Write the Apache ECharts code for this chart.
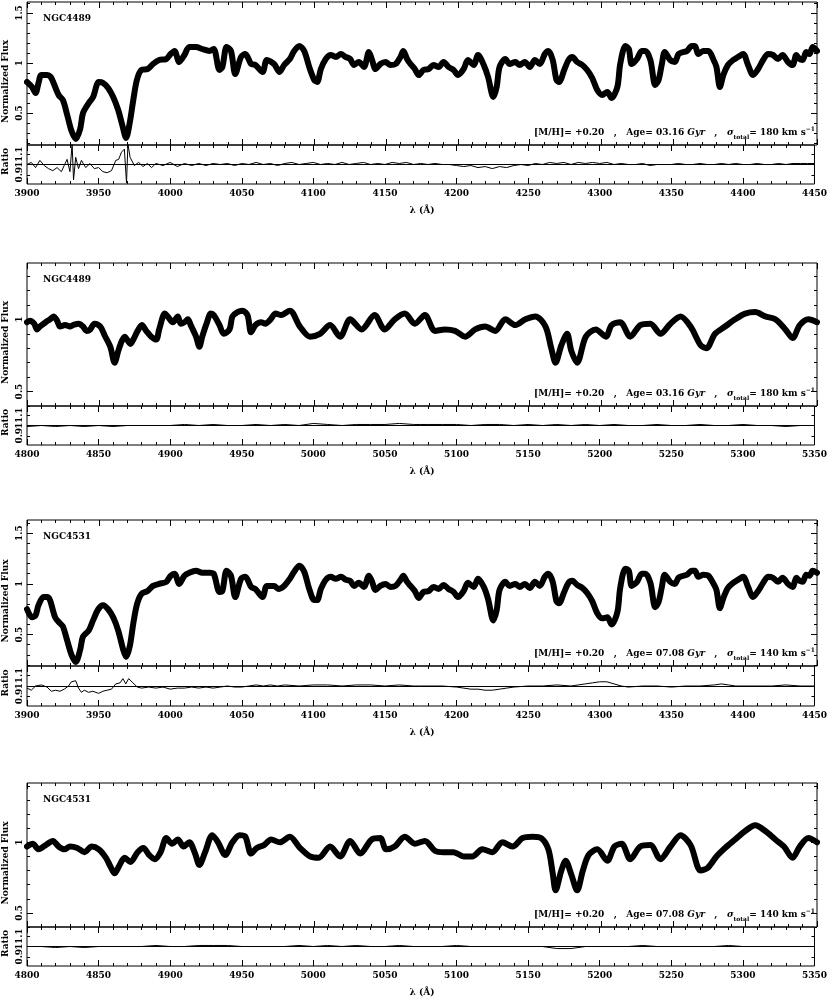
<!DOCTYPE html>
<html><head><meta charset="utf-8">
<script src="https://cdn.jsdelivr.net/npm/echarts@6/dist/echarts.min.js"></script>
<style>html,body{margin:0;padding:0;background:#fff}#c{width:830px;height:999px}</style>
</head><body><div id="c"></div><script>
// ---------------- DATA ----------------
const galaxyNames = ['NGC4489', 'NGC4489', 'NGC4531', 'NGC4531'];
const metallicities = ['+0.20', '+0.20', '+0.20', '+0.20'];
const ages = ['03.16', '03.16', '07.08', '07.08'];
const sigmas = ['180', '180', '140', '140'];
const xTickLabelsBlue = [3900, 3950, 4000, 4050, 4100, 4150, 4200, 4250, 4300, 4350, 4400, 4450];
const xTickLabelsRed = [4800, 4850, 4900, 4950, 5000, 5050, 5100, 5150, 5200, 5250, 5300, 5350];
const fluxTickLabels = [0.5, 1, 1.5];
const ratioTickLabels = [0.9, 1, 1.1];

const p1Wave = [3900,3903.5,3906,3908,3910,3914,3916.5,3918.5,3922,3925,3928,3931,3934,3937,3939,3943,3946,3950,3953,3956.5,3960,3963.5,3966.5,3969,3971.5,3974,3976.5,3979.6,3984,3987.7,3992,3997,4000,4002.7,4006,4009.6,4013,4017.7,4022,4027,4030,4034,4036,4039,4042,4045,4049,4052,4056,4059,4064,4067,4072,4075.8,4079,4083,4086,4089.6,4093,4096.5,4100,4102,4104.6,4108,4111.5,4115,4118.5,4122,4125,4127.7,4131,4134.6,4138,4140,4142.7,4146,4149.6,4153,4156.6,4160,4162,4164.6,4167,4170,4172.7,4176,4179.7,4183,4186.6,4190,4193.5,4197,4200,4204,4207,4211,4214,4218,4221,4224.7,4227,4229,4233,4236,4240,4243,4246.6,4250,4253.6,4257,4260.5,4263,4266,4268.6,4270.4,4274,4277,4279.7,4283,4286.6,4290,4293.5,4297,4300.5,4304,4307,4311,4313,4316.6,4319,4321,4324.7,4328,4330.5,4334,4337.4,4339.7,4342,4344,4347.8,4351,4353.6,4357,4359.4,4362.8,4365,4367.4,4371,4374.4,4378,4380,4382.4,4384.8,4388,4391.6,4395,4398.6,4402,4405.5,4409,4412.5,4416,4419.4,4422.8,4426,4429.8,4433,4435.6,4437.8,4440,4442.5,4444.8,4447,4450];
const p1Flux = [0.81,0.76,0.70,0.80,0.88,0.88,0.86,0.80,0.68,0.63,0.48,0.32,0.24,0.34,0.50,0.60,0.66,0.81,0.80,0.75,0.66,0.53,0.37,0.25,0.40,0.63,0.83,0.93,0.94,0.99,1.03,1.04,1.09,1.12,1.01,1.08,1.16,1.16,1.14,1.12,1.14,0.93,0.96,1.16,1.12,0.89,1.06,1.09,0.99,0.98,0.91,1.03,0.99,0.91,0.98,1.04,1.12,1.17,1.12,0.96,0.83,0.81,0.94,1.04,1.08,1.06,1.09,1.06,1.04,0.98,1.01,0.96,1.11,1.04,0.94,0.99,1.01,0.98,0.99,1.06,1.12,1.04,0.99,0.94,0.88,0.93,0.94,0.98,0.96,1.01,0.96,0.93,0.88,0.94,1.03,0.98,1.08,0.98,0.86,0.66,0.76,0.96,1.04,0.99,1.01,0.98,1.01,0.96,1.03,0.99,1.09,1.12,1.03,0.83,0.81,0.93,1.03,1.06,1.01,0.98,0.93,0.85,0.73,0.68,0.71,0.65,0.76,0.99,1.17,1.14,0.99,1.04,1.12,1.12,1.03,0.78,0.83,0.99,1.11,1.03,1.01,1.09,1.11,1.12,1.17,1.17,1.09,1.12,1.12,1.03,0.96,0.76,0.88,0.98,1.03,1.06,1.09,0.98,0.88,0.94,1.03,1.09,1.08,1.04,1.08,1.01,0.98,1.08,1.04,1.03,1.11,1.09,1.16,1.12];
const p1RatioWave = [3900,3903,3906,3909,3912,3915,3918,3921,3924,3926,3928,3930,3931.5,3932.5,3934,3936,3938,3941,3944,3947,3950,3953,3956,3959,3962,3964,3966,3968,3969.5,3970.5,3972,3975,3978,3981,3984,3987,3990,3995,4000,4005,4010,4015,4020,4025,4030,4035,4040,4045,4050,4055,4060,4065,4070,4075,4080,4085,4090,4095,4100,4105,4110,4115,4120,4125,4130,4135,4140,4145,4150,4155,4160,4165,4170,4175,4180,4185,4190,4195,4200,4205,4210,4215,4220,4225,4230,4235,4240,4245,4250,4255,4260,4265,4270,4275,4280,4285,4290,4295,4300,4305,4310,4315,4320,4325,4330,4335,4340,4345,4350,4355,4360,4365,4370,4375,4380,4385,4390,4395,4400,4405,4410,4415,4420,4425,4430,4435,4440,4445,4450];
const p1Ratio = [1.00,1.02,0.97,1.04,0.99,0.96,0.94,0.97,0.93,0.99,1.05,0.93,1.20,0.85,1.07,0.96,1.04,0.97,1.01,0.96,0.97,0.93,0.92,0.94,1.04,1.05,1.12,1.15,0.82,1.20,1.07,0.99,1.02,0.98,1.01,0.97,1.01,0.99,1.02,0.98,1.01,0.99,1.01,0.99,1.01,1.00,1.01,0.99,1.01,1.00,1.02,1.00,1.01,0.99,1.01,1.02,1.00,1.01,1.02,1.00,1.01,1.00,1.02,1.00,1.01,1.02,1.00,1.01,1.00,1.02,1.01,1.02,1.00,1.01,1.00,1.01,1.00,1.00,0.99,0.98,0.99,0.97,0.98,0.96,0.98,0.97,0.99,1.00,0.99,1.01,1.00,1.02,1.01,1.02,1.00,1.02,1.01,1.02,1.01,1.02,1.00,1.01,1.00,1.00,1.01,0.99,1.00,1.00,1.00,1.01,1.00,1.00,1.01,1.00,1.00,1.01,1.00,1.01,1.00,1.00,1.01,1.00,1.00,1.01,1.00,1.01,1.01,1.01,1.01];

const p2Wave = [4800,4802,4805,4807,4809,4813,4816,4818.5,4821,4823,4826.5,4830,4832,4836,4839,4841.5,4844,4847,4851,4854,4858,4861,4863.5,4866,4868,4872,4874,4877,4880,4883,4886.5,4890,4892,4896,4898,4901.5,4905,4907,4909.6,4912,4914,4917.7,4920,4922,4925,4928,4930,4934,4937,4941,4943,4946.5,4950,4953.5,4956,4959,4963,4966,4969.6,4973,4977,4983,4990,4997,5004,5011,5018,5025,5033,5042,5049,5056,5063,5070,5077,5084,5091,5098,5105,5112,5119,5126,5133,5140,5147,5154,5161,5165,5168,5172,5176,5179,5183,5189,5196,5203,5207,5213,5220,5227,5234,5241,5248,5255,5262,5269,5273,5279,5286,5293,5300,5307,5314,5321,5328,5333,5338,5344,5350];
const p2Flux = [0.98,0.99,0.97,0.93,0.95,0.98,1.00,1.02,0.99,0.95,0.96,0.95,0.96,0.97,0.95,0.92,0.93,0.97,0.95,0.89,0.81,0.70,0.78,0.85,0.88,0.83,0.86,0.92,0.96,0.92,0.88,0.86,0.93,1.04,1.02,0.98,1.02,0.97,0.98,1.00,0.96,0.88,0.81,0.88,0.97,1.04,1.03,0.96,0.90,0.93,1.02,1.05,1.06,1.03,0.91,0.96,0.98,0.97,1.00,1.04,1.03,1.06,0.95,0.88,0.90,0.96,0.88,1.00,0.93,1.03,0.93,1.00,1.04,0.97,1.03,0.92,0.93,0.92,0.88,0.93,0.95,0.92,1.00,0.96,1.00,1.02,0.95,0.80,0.70,0.82,0.90,0.78,0.70,0.88,0.93,0.88,0.96,0.98,0.88,0.96,0.97,0.90,0.97,1.02,0.95,0.82,0.80,0.90,0.95,1.00,1.04,1.05,1.02,1.00,0.93,0.87,0.96,1.00,0.98];
const p2RatioWave = [4800,4810,4820,4830,4840,4850,4860,4870,4880,4890,4900,4910,4920,4930,4940,4950,4960,4970,4980,4990,5000,5010,5020,5030,5040,5050,5060,5070,5080,5090,5100,5110,5120,5130,5140,5150,5160,5170,5180,5190,5200,5210,5220,5230,5240,5250,5260,5270,5280,5290,5300,5310,5320,5330,5340,5350];
const p2Ratio = [0.99,1.00,0.99,1.00,0.99,1.00,0.99,1.00,1.00,1.00,1.00,1.01,1.00,1.01,1.00,1.00,1.01,1.00,1.01,1.00,1.02,1.01,1.00,1.01,1.01,1.01,1.02,1.01,1.01,1.01,1.01,1.00,1.01,1.01,1.00,1.01,1.00,1.01,1.00,1.01,1.00,1.01,1.00,1.00,1.01,1.00,1.00,1.01,1.00,1.00,1.01,1.00,1.00,0.99,1.00,1.00];

const p3Wave = [3900,3903.5,3906,3908,3911.5,3914,3916,3919.6,3923,3925,3928,3931,3934,3937,3939,3943,3946,3949.6,3953,3956.5,3960,3963.5,3967,3969,3971.5,3974,3976.6,3979.6,3984,3987.7,3992,3997,4000,4002.7,4006,4009.6,4013,4017.7,4022,4027,4030,4034,4036,4039,4042,4045,4049,4052,4056,4059,4064,4067,4072,4075,4079,4083,4086,4089.6,4093,4096.5,4100,4102,4104.6,4108,4111.5,4115,4118.5,4122,4125,4127.7,4131,4134.6,4138,4140,4142.7,4146,4149.6,4153,4156.6,4160,4162,4164.6,4167,4170,4172.7,4176,4179.7,4183,4186.6,4190,4193.5,4197,4200,4204,4207,4211,4214,4218,4221,4224.7,4227,4229,4233,4236,4240,4243,4246.6,4250,4253.6,4257,4260.5,4263,4266,4268.6,4270.4,4274,4277,4279.7,4283,4286.6,4290,4293.5,4297,4300.5,4304,4307,4311,4313,4316.6,4319,4321,4324.7,4328,4330.5,4334,4337.4,4339.7,4342,4344,4347.8,4351,4353.6,4357,4359.4,4362.8,4365,4367.4,4371,4374.4,4378,4380,4382.4,4384.8,4388,4391.6,4395,4398.6,4402,4405.5,4409,4412.5,4416,4419.4,4422.8,4426,4429.8,4433,4435.6,4437.8,4440,4442.5,4444.8,4447,4450];
const p3Flux = [0.75,0.67,0.69,0.79,0.87,0.87,0.84,0.67,0.61,0.58,0.44,0.30,0.23,0.35,0.48,0.54,0.64,0.75,0.79,0.75,0.67,0.54,0.35,0.28,0.38,0.61,0.80,0.90,0.93,0.98,1.00,1.02,1.08,1.10,1.00,1.08,1.11,1.13,1.11,1.11,1.10,0.92,0.93,1.13,1.08,0.87,1.05,1.07,0.97,0.95,0.87,0.98,0.98,0.95,0.98,1.05,1.12,1.18,1.12,0.95,0.84,0.84,0.95,1.04,1.07,1.05,1.07,1.04,1.03,0.98,1.01,0.97,1.08,1.03,0.94,0.98,1.00,0.97,0.98,1.04,1.08,1.02,0.98,0.93,0.86,0.92,0.93,0.97,0.95,0.99,0.95,0.92,0.87,0.93,1.01,0.97,1.05,0.97,0.85,0.64,0.74,0.94,1.02,0.98,1.00,0.97,1.00,0.96,1.02,0.98,1.07,1.10,1.02,0.83,0.81,0.92,1.01,1.03,0.99,0.96,0.91,0.83,0.71,0.66,0.67,0.60,0.72,0.96,1.15,1.13,0.98,1.02,1.10,1.10,1.01,0.77,0.82,0.97,1.09,1.02,1.00,1.06,1.08,1.09,1.13,1.13,1.07,1.09,1.08,1.00,0.94,0.76,0.86,0.96,1.01,1.04,1.07,0.97,0.87,0.93,1.01,1.07,1.06,1.02,1.06,1.00,0.97,1.06,1.03,1.02,1.09,1.08,1.13,1.11];
const p3RatioWave = [3900,3903,3906,3910,3914,3917,3920,3923,3926,3929,3931,3934,3936,3938,3940,3943,3946,3950,3953,3956,3959,3962,3965,3967,3969,3971,3974,3977,3980,3985,3990,3995,4000,4005,4010,4015,4020,4025,4030,4035,4040,4045,4050,4055,4060,4065,4070,4075,4080,4090,4100,4110,4120,4130,4140,4150,4160,4170,4180,4190,4200,4205,4210,4215,4220,4225,4230,4235,4240,4250,4260,4270,4280,4285,4290,4295,4300,4305,4310,4315,4320,4330,4340,4350,4360,4370,4380,4385,4390,4395,4400,4410,4420,4430,4440,4450];
const p3Ratio = [0.98,0.96,1.00,1.01,0.99,0.95,0.96,0.95,0.97,1.00,1.04,1.05,0.98,0.94,0.96,0.94,0.95,0.93,0.95,0.96,0.97,1.02,1.03,1.07,1.02,1.07,1.03,0.99,0.98,0.99,0.98,0.99,0.97,0.98,0.98,0.99,0.98,0.99,0.98,0.99,1.00,0.99,0.99,1.00,1.01,1.00,1.01,1.00,1.01,1.00,1.01,1.01,1.00,1.01,1.01,1.00,1.01,1.00,1.00,1.00,0.99,0.98,0.97,0.97,0.96,0.96,0.97,0.98,0.99,1.00,1.00,1.01,1.00,1.01,1.02,1.03,1.04,1.04,1.02,1.00,0.99,1.00,1.00,0.99,1.00,1.00,1.01,1.02,1.01,1.00,1.00,1.00,1.00,1.01,1.00,1.00];

const p4Wave = [4800,4804,4808,4813,4818,4822,4826,4830,4835,4840,4845,4850,4855,4858,4861,4864,4868,4872,4877,4881,4885,4889,4893,4897,4901,4905,4909,4913,4917,4920,4924,4929,4933,4938,4943,4948,4952,4956,4960,4965,4970,4976,4983,4990,4997,5003,5011,5018,5025,5032,5040,5046,5050,5056,5063,5070,5077,5084,5090,5097,5104,5110,5117,5124,5131,5138,5145,5152,5158,5163,5166,5168,5172,5175,5179,5183,5187,5191,5197,5204,5209,5214,5220,5227,5234,5241,5248,5255,5262,5269,5274,5280,5286,5293,5300,5307,5314,5321,5327,5333,5338,5344,5350];
const p4Flux = [0.97,0.99,0.95,0.98,1.01,0.97,0.95,0.97,0.96,0.93,0.97,0.95,0.89,0.83,0.78,0.83,0.89,0.86,0.93,0.96,0.91,0.88,0.93,1.03,0.99,1.02,0.97,1.00,0.92,0.84,0.93,1.05,1.00,0.91,1.00,1.05,1.04,0.92,0.96,0.98,1.02,1.00,1.04,0.96,0.90,0.89,0.97,0.90,1.01,0.92,1.02,1.03,0.95,0.97,1.04,0.99,1.01,0.94,0.93,0.93,0.90,0.90,0.95,0.93,1.00,0.97,1.03,1.04,1.03,0.95,0.78,0.66,0.80,0.87,0.77,0.66,0.80,0.91,0.95,0.87,0.97,0.99,0.88,0.97,0.98,0.88,0.97,1.05,0.98,0.80,0.82,0.90,0.96,1.02,1.08,1.12,1.08,1.02,0.97,0.89,0.97,1.03,1.00];
const p4RatioWave = [4800,4810,4820,4830,4840,4850,4860,4870,4880,4890,4900,4910,4920,4930,4940,4950,4960,4970,4980,4990,5000,5010,5020,5030,5040,5050,5060,5070,5080,5090,5100,5110,5120,5130,5140,5150,5160,5170,5180,5190,5200,5210,5220,5230,5240,5250,5260,5270,5280,5290,5300,5310,5320,5330,5340,5350];
const p4Ratio = [1.00,1.00,0.99,1.00,0.99,1.00,1.00,1.00,1.00,1.01,1.00,1.00,1.01,1.01,1.01,1.00,1.00,1.00,1.00,1.01,1.00,1.01,1.00,1.01,1.00,1.00,1.01,1.00,1.00,1.00,1.01,1.00,1.00,1.00,1.00,1.00,1.00,0.98,0.98,1.00,1.00,1.00,1.00,1.01,1.00,1.00,1.00,1.00,1.00,1.01,1.00,1.00,1.00,1.00,1.00,1.00];

// ---------------- LAYOUT ----------------
const FONT = 'DejaVu Serif';
const panels = [
  {wave:p1Wave, flux:p1Flux, rWave:p1RatioWave, ratio:p1Ratio, xMin:3900, xMax:4450, yMin:0.18, yMax:1.61, top:2, mid:145, bot:184},
  {wave:p2Wave, flux:p2Flux, rWave:p2RatioWave, ratio:p2Ratio, xMin:4800, xMax:5350, yMin:0.40, yMax:1.39, top:263, mid:406, bot:445},
  {wave:p3Wave, flux:p3Flux, rWave:p3RatioWave, ratio:p3Ratio, xMin:3900, xMax:4450, yMin:0.19, yMax:1.63, top:520, mid:666, bot:706},
  {wave:p4Wave, flux:p4Flux, rWave:p4RatioWave, ratio:p4Ratio, xMin:4800, xMax:5350, yMin:0.40, yMax:1.42, top:783, mid:927, bot:966}
];
const RMIN = 0.81, RMAX = 1.19;
const LEFT = 27, RIGHT = 13;

const grids = [], xAxes = [], yAxes = [], series = [], graphics = [];
const tickStyle = {color:'#000', width:1};
const labelStyle = {color:'#000', fontFamily:FONT, fontSize:9, fontWeight:'bold'};

panels.forEach((p, i) => {
  const gMain = grids.length;
  grids.push({left:LEFT, right:RIGHT, top:p.top, height:p.mid - p.top, show:true, borderColor:'#000', borderWidth:1, backgroundColor:'transparent'});
  const gRat = grids.length;
  grids.push({left:LEFT, right:RIGHT, top:p.mid, height:p.bot - p.mid, show:true, borderColor:'#000', borderWidth:1, backgroundColor:'transparent'});

  const xBase = () => ({type:'value', min:p.xMin, max:p.xMax, interval:50,
    axisLine:{show:false}, splitLine:{show:false},
    axisTick:{show:true, inside:true, length:6, lineStyle:tickStyle},
    minorTick:{show:true, splitNumber:5, length:3, lineStyle:tickStyle},
    axisLabel:{show:false}});
  const xMain = xAxes.length;
  xAxes.push(Object.assign(xBase(), {gridIndex:gMain, position:'bottom'}));
  xAxes.push(Object.assign(xBase(), {gridIndex:gMain, position:'top'}));
  const xRat = xAxes.length;
  xAxes.push(Object.assign(xBase(), {gridIndex:gRat, position:'bottom',
    axisLabel:Object.assign({show:true, margin:5, showMinLabel:true, showMaxLabel:true, hideOverlap:false,
      formatter:v => String(v)}, labelStyle)}));
  xAxes.push(Object.assign(xBase(), {gridIndex:gRat, position:'top'}));

  const major = fluxTickLabels.filter(v => v >= p.yMin && v <= p.yMax);
  const minor = [];
  for (let k = Math.ceil(p.yMin * 10 - 1e-9); k <= Math.floor(p.yMax * 10 + 1e-9); k++) minor.push(+(k / 10).toFixed(1));
  const yBase = (g, min, max, pos, ticks, len) => ({gridIndex:g, type:'value', min:min, max:max, position:pos,
    axisLine:{show:false}, splitLine:{show:false}, axisLabel:{show:false},
    axisTick:{show:ticks.length > 0, inside:true, length:len, customValues:ticks, lineStyle:tickStyle}});
  const yMain = yAxes.length;
  const yl = yBase(gMain, p.yMin, p.yMax, 'left', major, 6);
  yl.axisLabel = Object.assign({show:true, customValues:major, rotate:90, margin:3, hideOverlap:false}, labelStyle);
  yAxes.push(yl);
  yAxes.push(yBase(gMain, p.yMin, p.yMax, 'left', minor, 3));
  yAxes.push(yBase(gMain, p.yMin, p.yMax, 'right', major, 6));
  yAxes.push(yBase(gMain, p.yMin, p.yMax, 'right', minor, 3));

  const yRat = yAxes.length;
  yAxes.push(yBase(gRat, RMIN, RMAX, 'left', [0.9, 1.1], 3));
  yAxes.push(yBase(gRat, RMIN, RMAX, 'right', [0.9, 1.1], 3));
  // one label axis per ratio tick label so none is dropped by overlap handling
  ratioTickLabels.forEach(v => {
    const a = yBase(gRat, RMIN, RMAX, 'left', [], 3);
    a.axisLabel = Object.assign({show:true, customValues:[v], rotate:90, margin:3, hideOverlap:false}, labelStyle);
    yAxes.push(a);
  });

  series.push({type:'line', xAxisIndex:xMain, yAxisIndex:yMain, data:p.wave.map((w, k) => [w, p.flux[k]]),
    showSymbol:false, silent:true, clip:true, smooth:0.3,
    lineStyle:{color:'#000', width:6, cap:'round', join:'round'}});
  series.push({type:'line', xAxisIndex:xRat, yAxisIndex:yRat, data:p.rWave.map((w, k) => [w, p.ratio[k]]),
    showSymbol:false, silent:true, clip:true,
    lineStyle:{color:'#000', width:1},
    markLine:{silent:true, symbol:['none', 'none'], label:{show:false}, animation:false,
      lineStyle:{color:'#000', type:'solid', width:1}, data:[{yAxis:1}]}});

  // texts
  graphics.push({type:'text', left:43, top:p.top + 12, silent:true,
    style:{text:galaxyNames[i], fill:'#000', font:'bold 9px ' + FONT}});
  graphics.push({type:'text', right:RIGHT + 2, top:p.mid - 19, silent:true,
    style:{text:'[M/H]= ' + metallicities[i] + '   ,   Age= ' + ages[i] + ' {it|Gyr}   ,   {it|σ}{sub|total}= ' + sigmas[i] + ' km s{sup|−1}',
      fill:'#000', font:'bold 9px ' + FONT,
      rich:{it:{fontStyle:'italic', fontWeight:'bold', fontSize:9, fontFamily:FONT},
            sub:{fontSize:6, fontWeight:'bold', fontFamily:FONT, verticalAlign:'bottom', padding:[8, 0, 0, 0]},
            sup:{fontSize:6, fontWeight:'bold', fontFamily:FONT, verticalAlign:'top', padding:[0, 0, 8, 0]}}}});
  graphics.push({type:'text', x:6, y:(p.top + p.mid) / 2 + 8, rotation:Math.PI / 2, silent:true,
    style:{text:'Normalized Flux', fill:'#000', font:'bold 9px ' + FONT, align:'center', verticalAlign:'middle'}});
  graphics.push({type:'text', x:6, y:(p.mid + p.bot) / 2 - 3, rotation:Math.PI / 2, silent:true,
    style:{text:'Ratio', fill:'#000', font:'bold 9px ' + FONT, align:'center', verticalAlign:'middle'}});
  graphics.push({type:'text', x:422, y:p.bot + 27, silent:true,
    style:{text:'λ (Å)', fill:'#000', font:'bold 9px ' + FONT, align:'center', verticalAlign:'middle'}});
});

const chart = echarts.init(document.getElementById('c'), null, {renderer:'canvas'});
chart.setOption({
  animation:false,
  backgroundColor:'#fff',
  grid:grids, xAxis:xAxes, yAxis:yAxes, series:series, graphic:graphics
});
</script></body></html>
